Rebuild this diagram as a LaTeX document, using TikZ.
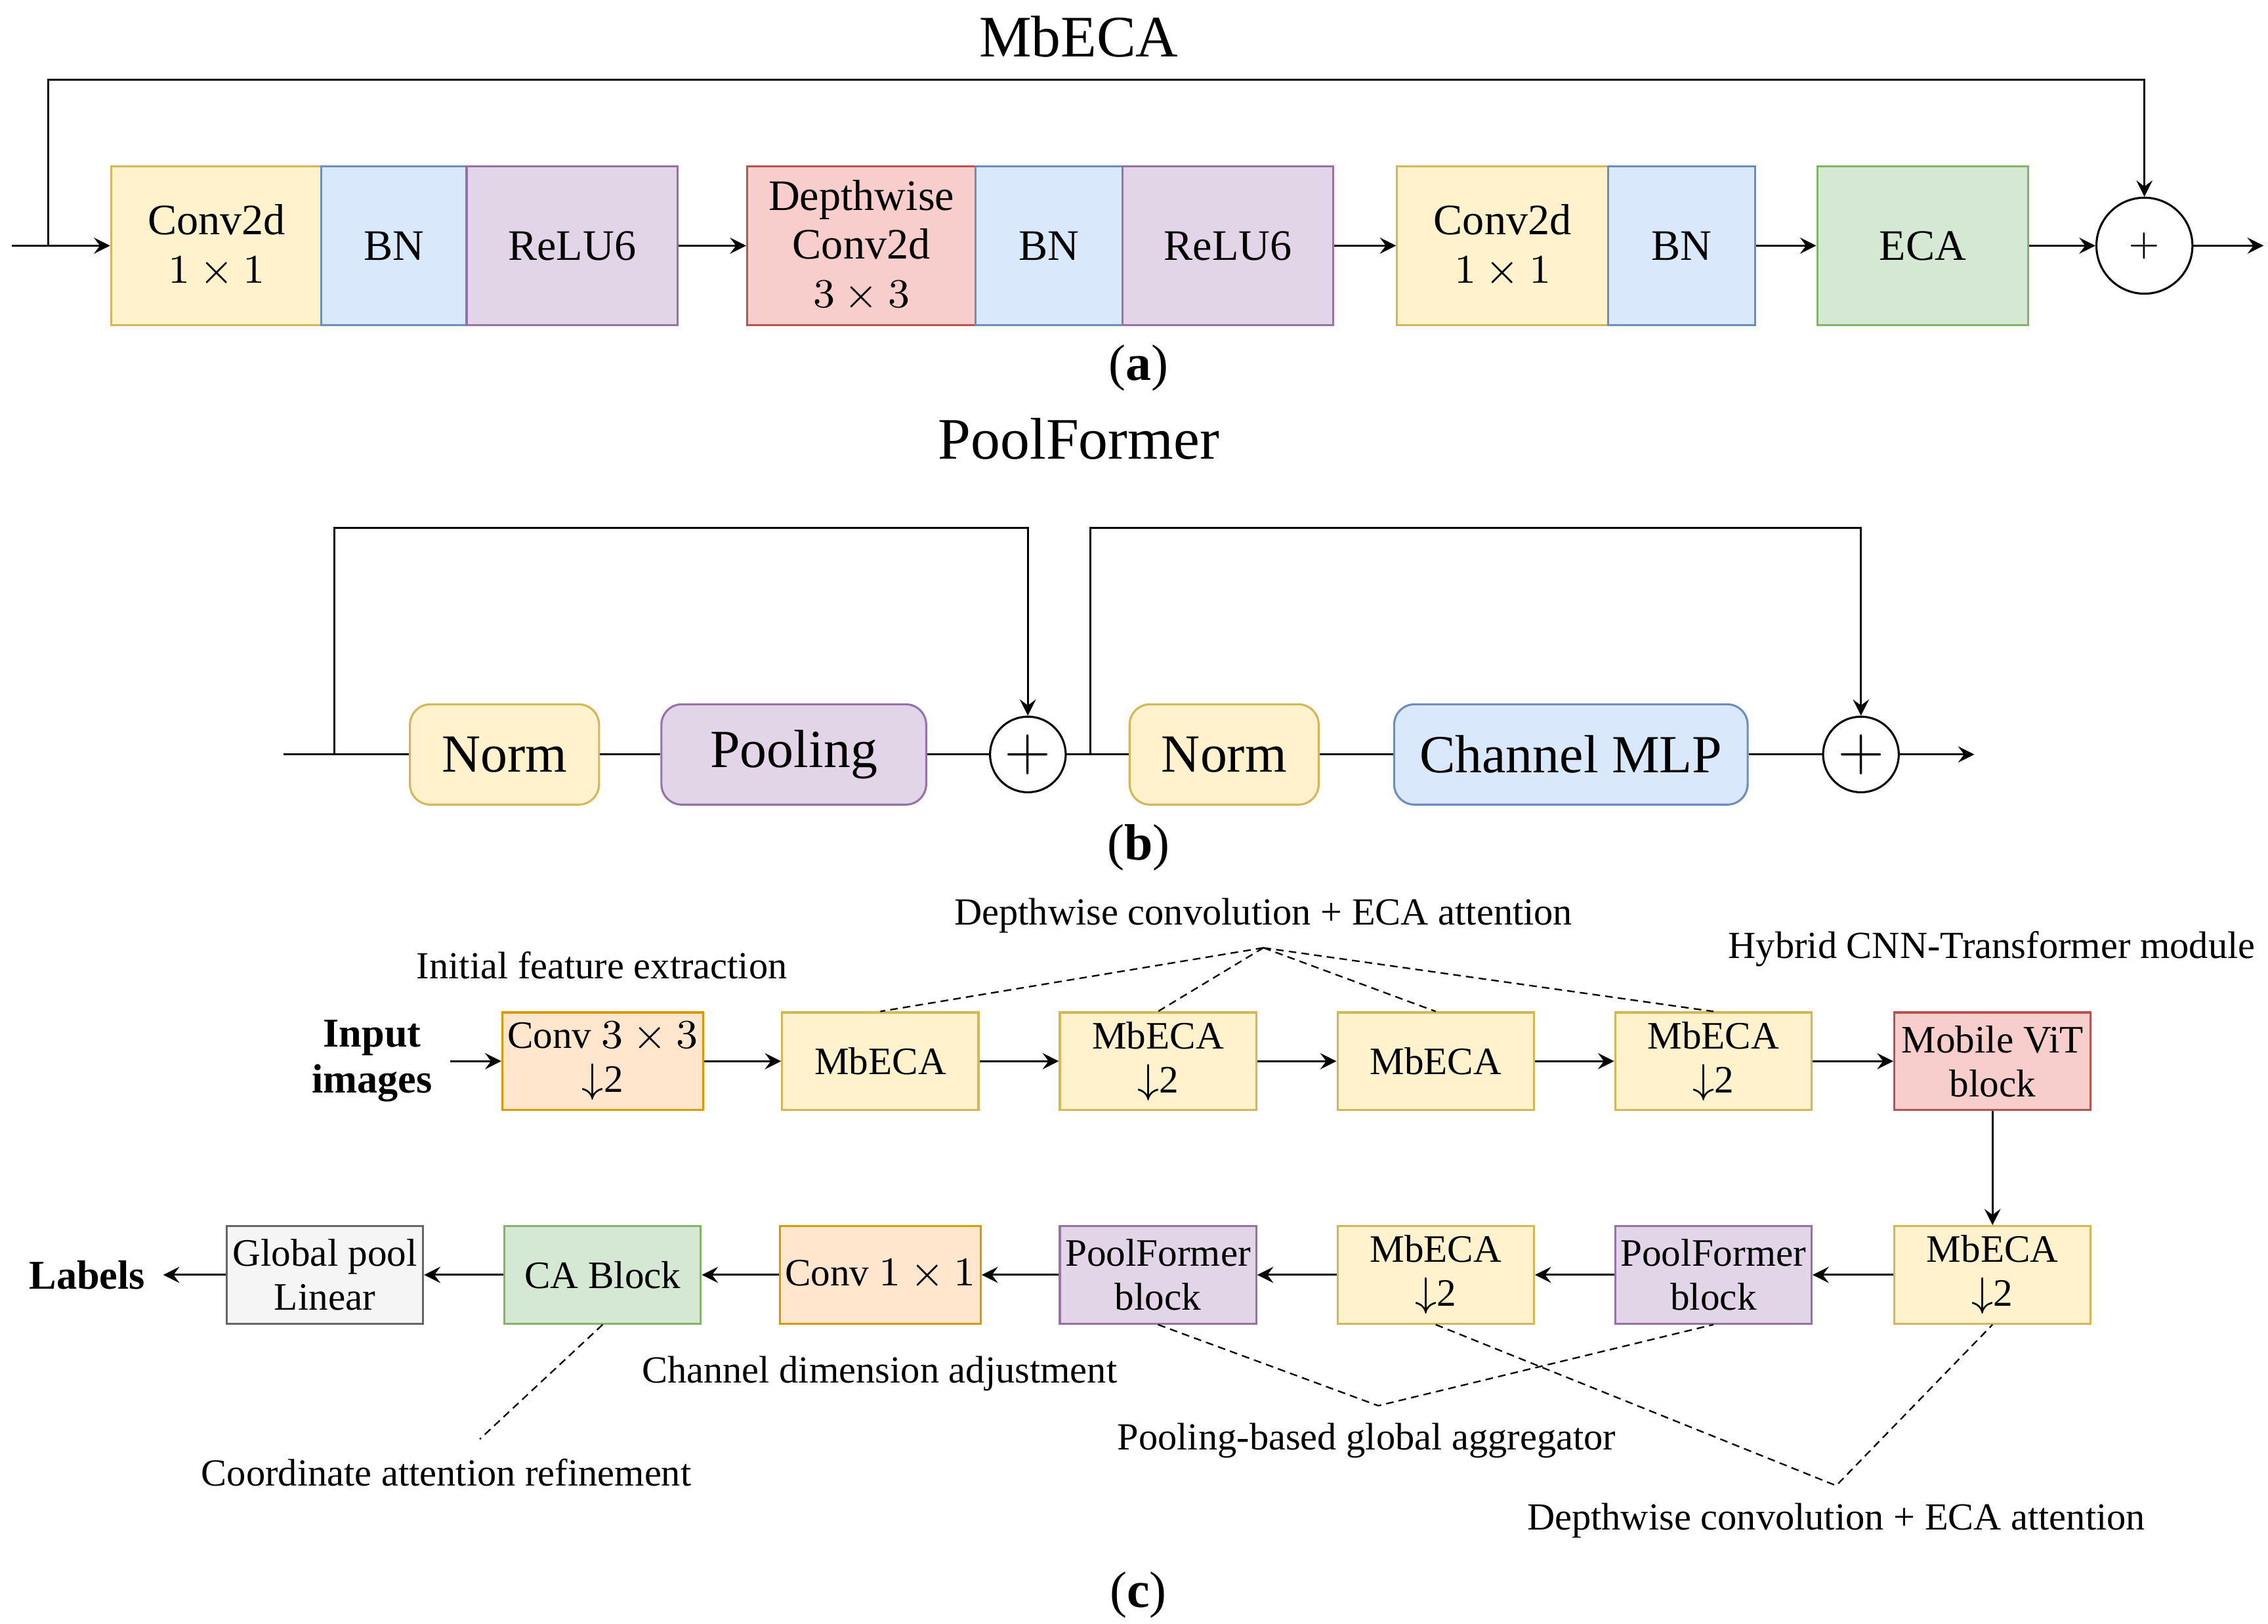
\documentclass[tikz,border=0pt]{standalone}
\usepackage{fontspec}
\setmainfont{Liberation Serif}
\usetikzlibrary{arrows, positioning}

\definecolor{ylwF}{HTML}{FFF2CC}\definecolor{ylwD}{HTML}{D6B656}
\definecolor{bluF}{HTML}{DAE8FC}\definecolor{bluD}{HTML}{6C8EBF}
\definecolor{purF}{HTML}{E1D5E7}\definecolor{purD}{HTML}{9673A6}
\definecolor{redF}{HTML}{F8CECC}\definecolor{redD}{HTML}{B85450}
\definecolor{grnF}{HTML}{D5E8D4}\definecolor{grnD}{HTML}{82B366}
\definecolor{orgF}{HTML}{FFE6CC}\definecolor{orgD}{HTML}{D79B00}
\definecolor{gryF}{HTML}{F5F5F5}\definecolor{gryD}{HTML}{666666}

\begin{document}
\begin{tikzpicture}[x={0.01cm}, y={-0.01cm},
    % Node styles
    blk/.style={rectangle, minimum height=1.09cm, text centered, align=center,
                inner sep=1pt, font=\fontsize{8.5}{9.5}\selectfont},
    wA/.style={blk, minimum width=1.45cm},
    yel/.style={fill=ylwF, draw=ylwD},
    blu/.style={fill=bluF, draw=bluD},
    pur/.style={fill=purF, draw=purD},
    rd/.style={fill=redF, draw=redD},
    grn/.style={fill=grnF, draw=grnD},
    org/.style={fill=orgF, draw=orgD},
    gry/.style={fill=gryF, draw=gryD},
    pblk/.style={rectangle, rounded corners=4pt, minimum height=0.69cm, text centered,
                 font=\fontsize{10.5}{12}\selectfont},
    cblk/.style={rectangle, minimum width=1.35cm, minimum height=0.67cm, text centered,
                 align=center, inner sep=1pt, font=\fontsize{7.6}{8.6}\selectfont},
    plus/.style={circle, draw, minimum size=0.66cm, inner sep=0pt, font=\scriptsize},
    plusb/.style={circle, draw, minimum size=0.52cm, inner sep=0pt, font=\large},
    note/.style={font=\fontsize{7.5}{9}\selectfont},
    ttl/.style={font=\fontsize{11.5}{13}\selectfont},
    lbl/.style={font=\fontsize{10}{12}\selectfont},
    arrow/.style={->, >=stealth},
    dsh/.style={dash pattern=on 1.5pt off 1pt, line width=0.3pt}
]
\useasboundingbox (0,0) rectangle (1560,1117);

% ---------- (a) MbECA ----------
\node[ttl] (titleA) at (742,25) {MbECA};
\node[wA, yel] (convA) at (149,169) {Conv2d\\$1\times1$};
\node[blk, blu, minimum width=1cm] (bnA) at (271,169) {BN};
\node[wA, pur] (reluA) at (393.5,169) {ReLU6};
\node[blk, rd, minimum width=1.57cm] (dwA) at (592.5,169) {Depthwise\\Conv2d\\$3\times3$};
\node[blk, blu, minimum width=1.01cm] (bnB) at (721.5,169) {BN};
\node[wA, pur] (reluB) at (844.5,169) {ReLU6};
\node[wA, yel] (convB) at (1033.5,169) {Conv2d\\$1\times1$};
\node[blk, blu, minimum width=1.01cm] (bnC) at (1156.5,169) {BN};
\node[wA, grn] (eca) at (1322.5,169) {ECA};
\node[plus] (addA) at (1475,169) {$+$};
\coordinate (inA) at (8,169);
\coordinate (splitA) at (33,169);
\coordinate (outA) at (1557,169);

\draw[arrow] (inA) -- (convA);
\draw[arrow] (reluA) -- (dwA);
\draw[arrow] (reluB) -- (convB);
\draw[arrow] (bnC) -- (eca);
\draw[arrow] (eca) -- (addA);
\draw[arrow] (addA) -- (outA);
\draw[arrow] (splitA) |- (1475,55) -- (addA);
\node[lbl] (capA) at (783,253) {(\textbf{a})};

% ---------- (b) PoolFormer ----------
\node[ttl] (titleB) at (742,302) {PoolFormer};
\coordinate (inB) at (195,519);
\coordinate (splitB) at (230,519);
\node[pblk, yel, minimum width=1.3cm] (normA) at (347,519) {Norm};
\node[pblk, pur, minimum width=1.82cm] (pool) at (546,519) {Pooling};
\node[plusb] (addB) at (707,519) {$+$};
\coordinate (splitC) at (750,519);
\node[pblk, yel, minimum width=1.3cm] (normB) at (842,519) {Norm};
\node[pblk, blu, minimum width=2.43cm] (mlp) at (1080.5,519) {Channel MLP};
\node[plusb] (addC) at (1280,519) {$+$};
\coordinate (outB) at (1358,519);

\draw (inB) -- (normA) -- (pool) -- (addB) -- (normB) -- (mlp) -- (addC);
\draw[arrow] (addC) -- (outB);
\draw[arrow] (splitB) |- (707,363) -- (addB);
\draw[arrow] (splitC) |- (1280,363) -- (addC);
\node[lbl] (capB) at (783,583) {(\textbf{b})};

% ---------- (c) network ----------
\node[font=\fontsize{8}{9}\selectfont\bfseries, align=center] (input) at (256,730) {Input\\images};
\node[cblk, org] (stem) at (414.5,730) {Conv $3\times3$\\$\downarrow$2};
\node[cblk, yel] (mb1) at (605.5,730) {MbECA};
\node[cblk, yel] (mb2) at (796.5,730) {MbECA\\$\downarrow$2};
\node[cblk, yel] (mb3) at (987.5,730) {MbECA};
\node[cblk, yel] (mb4) at (1178.5,730) {MbECA\\$\downarrow$2};
\node[cblk, rd] (vit) at (1370.5,730) {Mobile ViT\\block};
\node[cblk, yel] (mb5) at (1370.5,877) {MbECA\\$\downarrow$2};
\node[cblk, pur] (pf1) at (1178.5,877) {PoolFormer\\block};
\node[cblk, yel] (mb6) at (987.5,877) {MbECA\\$\downarrow$2};
\node[cblk, pur] (pf2) at (796.5,877) {PoolFormer\\block};
\node[cblk, org] (conv1) at (605.5,877) {Conv $1\times1$};
\node[cblk, grn] (ca) at (414.5,877) {CA Block};
\node[cblk, gry] (gp) at (223.5,877) {Global pool\\Linear};
\node[font=\fontsize{8}{9}\selectfont\bfseries] (labels) at (60,877) {Labels};

\draw[arrow] (input) -- (stem);
\draw[arrow] (stem) -- (mb1);
\draw[arrow] (mb1) -- (mb2);
\draw[arrow] (mb2) -- (mb3);
\draw[arrow] (mb3) -- (mb4);
\draw[arrow] (mb4) -- (vit);
\draw[arrow] (vit) -- (mb5);
\draw[arrow] (mb5) -- (pf1);
\draw[arrow] (pf1) -- (mb6);
\draw[arrow] (mb6) -- (pf2);
\draw[arrow] (pf2) -- (conv1);
\draw[arrow] (conv1) -- (ca);
\draw[arrow] (ca) -- (gp);
\draw[arrow] (gp) -- (labels);

% annotations
\node[note] (nInit) at (414,664) {Initial feature extraction};
\node[note] (nDw) at (869,630) {Depthwise convolution + ECA attention};
\node[note] (nHyb) at (1370,653) {Hybrid CNN-Transformer module};
\node[note] (nChan) at (605,945) {Channel dimension adjustment};
\node[note] (nCoord) at (307,1013) {Coordinate attention refinement};
\node[note] (nPool) at (940,991) {Pooling-based global aggregator};
\node[note] (nDw2) at (1263,1046) {Depthwise convolution + ECA attention};
\coordinate (dwTip) at (869,652);
\coordinate (poolTip) at (948,967);
\coordinate (dwTip2) at (1263,1022);
\coordinate (coordTip) at (330,990);

\foreach \b in {mb1, mb2, mb3, mb4}
    \draw[dsh] (dwTip) -- (\b.north);
\draw[dsh] (ca.south) -- (coordTip);
\draw[dsh] (pf2.south) -- (poolTip) -- (pf1.south);
\draw[dsh] (mb6.south) -- (dwTip2) -- (mb5.south);
\node[lbl] (capC) at (783,1097) {(\textbf{c})};

\end{tikzpicture}
\end{document}
